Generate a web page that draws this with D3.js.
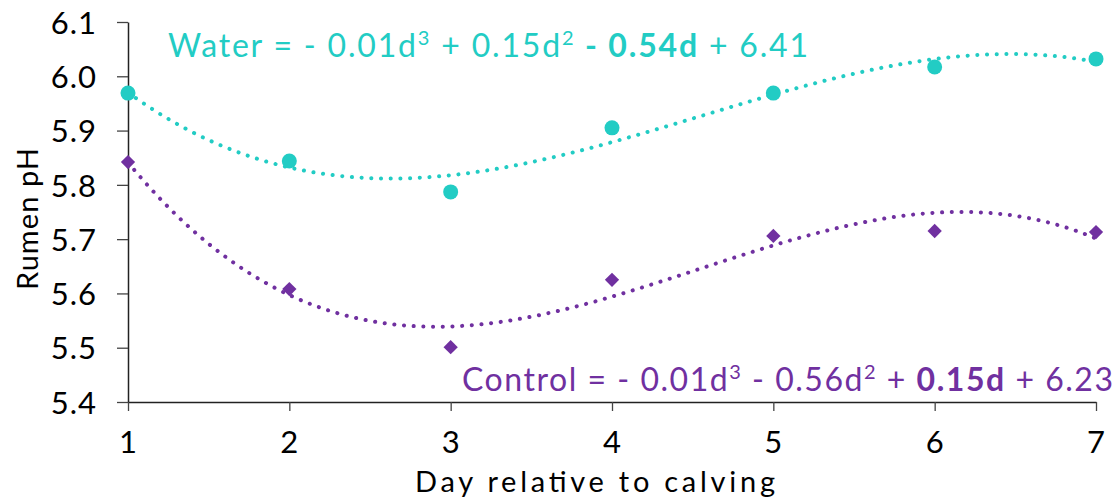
<!DOCTYPE html>
<html>
<head>
<meta charset="utf-8">
<script src="https://cdn.jsdelivr.net/npm/d3@7"></script>
<style>
  body { margin: 0; background: #fff; }
  text { font-family: "Lato", "Noto Sans", sans-serif; }
</style>
</head>
<body>
<div id="chart"></div>
<script>
// data
var days     = [1, 2, 3, 4, 5, 6, 7];
var water    = [5.969, 5.844, 5.787, 5.905, 5.969, 6.017, 6.032];
var control  = [5.842, 5.608, 5.501, 5.625, 5.706, 5.715, 5.713];
var yTicks   = [5.4, 5.5, 5.6, 5.7, 5.8, 5.9, 6.0, 6.1];

var teal   = "#22CCC4",
    purple = "#7030A0";

var width = 1120, height = 499;
var margin = {top: 22, right: 24, bottom: 97, left: 128};

var svg = d3.select("#chart").append("svg")
    .attr("width", width)
    .attr("height", height);

var x = d3.scaleLinear().domain([1, 7]).range([margin.left, width - margin.right]);
var y = d3.scaleLinear().domain([5.4, 6.1]).range([height - margin.bottom, margin.top]);

// cubic least-squares trendline, like the spreadsheet does
function cubicFit(xs, ys) {
  var n = 4, A = [], i, j, k;
  for (i = 0; i < n; i++) {
    A.push([]);
    for (j = 0; j < n; j++) A[i].push(d3.sum(xs, function(v) { return Math.pow(v, i + j); }));
    A[i].push(d3.sum(xs, function(v, t) { return Math.pow(v, i) * ys[t]; }));
  }
  for (i = 0; i < n; i++) {
    var p = i;
    for (k = i + 1; k < n; k++) if (Math.abs(A[k][i]) > Math.abs(A[p][i])) p = k;
    var tmp = A[i]; A[i] = A[p]; A[p] = tmp;
    for (k = i + 1; k < n; k++) {
      var f = A[k][i] / A[i][i];
      for (j = i; j <= n; j++) A[k][j] -= f * A[i][j];
    }
  }
  var c = [0, 0, 0, 0];
  for (i = n - 1; i >= 0; i--) {
    var s = A[i][n];
    for (j = i + 1; j < n; j++) s -= A[i][j] * c[j];
    c[i] = s / A[i][i];
  }
  return function(v) { return c[0] + c[1] * v + c[2] * v * v + c[3] * v * v * v; };
}

var fine = d3.range(1, 7.0001, 0.05);
var line = d3.line().x(function(d) { return x(d[0]); }).y(function(d) { return y(d[1]); });

function drawTrend(vals, color) {
  var fn = cubicFit(days, vals);
  svg.append("path")
    .datum(fine.map(function(v) { return [v, fn(v)]; }))
    .attr("d", line)
    .attr("fill", "none")
    .attr("stroke", color)
    .attr("stroke-width", 4)
    .attr("stroke-linecap", "round")
    .attr("stroke-dasharray", "0.1 9.6");
}

drawTrend(water, teal);
drawTrend(control, purple);

// axes
var yAxis = svg.append("g")
    .attr("transform", "translate(" + margin.left + ",0)")
    .call(d3.axisLeft(y).tickValues(yTicks).tickFormat(d3.format(".1f")).tickSize(11).tickSizeOuter(0));
var xAxis = svg.append("g")
    .attr("transform", "translate(0," + (height - margin.bottom) + ")")
    .call(d3.axisBottom(x).tickValues(days).tickFormat(d3.format("d")).tickSize(9).tickSizeOuter(0));

[yAxis, xAxis].forEach(function(g) {
  g.select(".domain").attr("stroke", "#222").attr("stroke-width", 1.5);
  g.selectAll(".tick line").attr("stroke", "#444").attr("stroke-width", 1.3);
  g.selectAll(".tick text").attr("fill", "#000")
    .style("font-size", "31px").style("letter-spacing", "1px")
    .style("font-family", "Lato, sans-serif");
});
yAxis.selectAll(".tick text").attr("x", -31).attr("dy", "0.36em");
xAxis.selectAll(".tick text").attr("y", 29).attr("dy", "0.71em");

// markers
svg.append("g").selectAll("circle")
  .data(days)
  .enter().append("circle")
    .attr("cx", function(d) { return x(d); })
    .attr("cy", function(d, i) { return y(water[i]); })
    .attr("r", 7.5)
    .attr("fill", teal);

svg.append("g").selectAll("path")
  .data(days)
  .enter().append("path")
    .attr("d", d3.symbol().type(d3.symbolDiamond2).size(130))
    .attr("transform", function(d, i) { return "translate(" + x(d) + "," + y(control[i]) + ")"; })
    .attr("fill", purple);

// axis titles
svg.append("text")
  .attr("x", 415)
  .attr("y", 492)
  .attr("textLength", 360)
  .attr("lengthAdjust", "spacing")
  .style("font-size", "29px")
  .text("Day relative to calving");

svg.append("text")
  .attr("transform", "translate(38,290) rotate(-90)")
  .attr("textLength", 142)
  .attr("lengthAdjust", "spacing")
  .style("font-size", "29px")
  .text("Rumen pH");

// equations
function equation(xPos, yPos, color, parts, len) {
  var t = svg.append("text")
    .attr("x", xPos).attr("y", yPos)
    .attr("fill", color)
    .style("font-size", "32px");
  parts.forEach(function(p) {
    var s = t.append("tspan").text(p.t);
    if (p.b) s.style("font-weight", "bold");
    if (p.sup) s.attr("dy", -12).style("font-size", "20px");
    if (p.down) s.attr("dy", 12);
  });
  if (len) t.attr("textLength", len).attr("lengthAdjust", "spacing");
}

equation(168, 57, teal, [
  {t: "Water = - 0.01d"}, {t: "3", sup: true}, {t: " + 0.15d", down: true}, {t: "2", sup: true},
  {t: " - 0.54d", b: true, down: true}, {t: " + 6.41"}
], 640);

equation(462, 391, purple, [
  {t: "Control = - 0.01d"}, {t: "3", sup: true}, {t: " - 0.56d", down: true}, {t: "2", sup: true},
  {t: " + ", down: true}, {t: "0.15d", b: true}, {t: " + 6.23"}
], 651);
</script>
</body>
</html>
